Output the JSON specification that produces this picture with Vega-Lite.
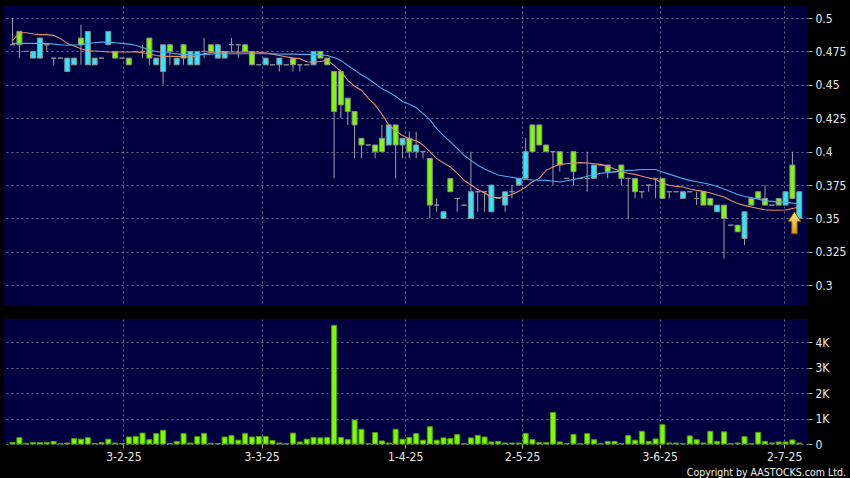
{
"$schema": "https://vega.github.io/schema/vega-lite/v6.json",
"background": "#000000",
"padding": {"left": 4, "top": 6, "right": 6, "bottom": 0},
"config": {
  "view": {"fill": "#000040", "stroke": null},
  "font": "DejaVu Sans Condensed, Liberation Sans, sans-serif",
  "axis": {"gridColor": "#6c6c96", "gridDash": [2, 3], "gridWidth": 1, "domain": false, "labelColor": "#e8e8e8", "tickColor": "#b0b0b0", "labelFont": "DejaVu Sans Condensed, Liberation Sans, sans-serif", "labelFontSize": 12, "tickSize": 4, "labelPadding": 3, "labelOverlap": false}
},
"datasets": {
"prices": [
{"i":0,"open":0.48,"high":0.5,"low":0.48,"close":0.48,"volume":60,"ma10":0.483,"ma20":0.481},
{"i":1,"open":0.49,"high":0.49,"low":0.47,"close":0.48,"volume":250,"ma10":0.489,"ma20":0.481},
{"i":2,"open":0.475,"high":0.475,"low":0.475,"close":0.475,"volume":30,"ma10":0.489,"ma20":0.481},
{"i":3,"open":0.47,"high":0.475,"low":0.47,"close":0.475,"volume":60,"ma10":0.488,"ma20":0.481},
{"i":4,"open":0.47,"high":0.485,"low":0.47,"close":0.485,"volume":60,"ma10":0.4876,"ma20":0.481},
{"i":5,"open":0.48,"high":0.48,"low":0.475,"close":0.48,"volume":60,"ma10":0.4876,"ma20":0.481},
{"i":6,"open":0.47,"high":0.47,"low":0.465,"close":0.47,"volume":100,"ma10":0.487,"ma20":0.4805},
{"i":7,"open":0.47,"high":0.47,"low":0.47,"close":0.47,"volume":10,"ma10":0.4846,"ma20":0.48},
{"i":8,"open":0.46,"high":0.47,"low":0.46,"close":0.47,"volume":40,"ma10":0.481,"ma20":0.4796},
{"i":9,"open":0.465,"high":0.47,"low":0.465,"close":0.47,"volume":210,"ma10":0.479,"ma20":0.4798},
{"i":10,"open":0.485,"high":0.495,"low":0.465,"close":0.48,"volume":190,"ma10":0.477,"ma20":0.48},
{"i":11,"open":0.465,"high":0.49,"low":0.465,"close":0.49,"volume":250,"ma10":0.4755,"ma20":0.481},
{"i":12,"open":0.465,"high":0.47,"low":0.465,"close":0.47,"volume":20,"ma10":0.4753,"ma20":0.4815},
{"i":13,"open":0.47,"high":0.47,"low":0.47,"close":0.47,"volume":60,"ma10":0.475,"ma20":0.482},
{"i":14,"open":0.48,"high":0.49,"low":0.48,"close":0.49,"volume":190,"ma10":0.4746,"ma20":0.482},
{"i":15,"open":0.475,"high":0.475,"low":0.47,"close":0.47,"volume":40,"ma10":0.4746,"ma20":0.4815},
{"i":16,"open":0.47,"high":0.47,"low":0.47,"close":0.47,"volume":20,"ma10":0.4746,"ma20":0.481},
{"i":17,"open":0.47,"high":0.47,"low":0.465,"close":0.465,"volume":275,"ma10":0.4746,"ma20":0.4805},
{"i":18,"open":0.475,"high":0.475,"low":0.475,"close":0.475,"volume":300,"ma10":0.4746,"ma20":0.4796},
{"i":19,"open":0.475,"high":0.48,"low":0.47,"close":0.475,"volume":430,"ma10":0.474,"ma20":0.478},
{"i":20,"open":0.485,"high":0.485,"low":0.465,"close":0.47,"volume":170,"ma10":0.4733,"ma20":0.4763},
{"i":21,"open":0.465,"high":0.47,"low":0.465,"close":0.47,"volume":410,"ma10":0.472,"ma20":0.475},
{"i":22,"open":0.46,"high":0.48,"low":0.45,"close":0.48,"volume":540,"ma10":0.4713,"ma20":0.4742},
{"i":23,"open":0.48,"high":0.48,"low":0.465,"close":0.475,"volume":20,"ma10":0.4713,"ma20":0.4738},
{"i":24,"open":0.465,"high":0.47,"low":0.465,"close":0.47,"volume":100,"ma10":0.4713,"ma20":0.4732},
{"i":25,"open":0.48,"high":0.48,"low":0.465,"close":0.47,"volume":410,"ma10":0.4708,"ma20":0.4727},
{"i":26,"open":0.465,"high":0.475,"low":0.465,"close":0.475,"volume":40,"ma10":0.4708,"ma20":0.4726},
{"i":27,"open":0.465,"high":0.475,"low":0.465,"close":0.475,"volume":290,"ma10":0.472,"ma20":0.4726},
{"i":28,"open":0.475,"high":0.485,"low":0.47,"close":0.475,"volume":420,"ma10":0.4733,"ma20":0.4728},
{"i":29,"open":0.48,"high":0.48,"low":0.475,"close":0.475,"volume":30,"ma10":0.4743,"ma20":0.473},
{"i":30,"open":0.47,"high":0.48,"low":0.47,"close":0.48,"volume":20,"ma10":0.4746,"ma20":0.4733},
{"i":31,"open":0.47,"high":0.475,"low":0.47,"close":0.475,"volume":275,"ma10":0.4746,"ma20":0.4733},
{"i":32,"open":0.48,"high":0.485,"low":0.475,"close":0.48,"volume":330,"ma10":0.4746,"ma20":0.4733},
{"i":33,"open":0.48,"high":0.48,"low":0.47,"close":0.48,"volume":150,"ma10":0.4746,"ma20":0.4733},
{"i":34,"open":0.48,"high":0.48,"low":0.475,"close":0.475,"volume":410,"ma10":0.4746,"ma20":0.4733},
{"i":35,"open":0.475,"high":0.475,"low":0.465,"close":0.465,"volume":275,"ma10":0.4746,"ma20":0.4733},
{"i":36,"open":0.465,"high":0.465,"low":0.465,"close":0.465,"volume":300,"ma10":0.4744,"ma20":0.4733},
{"i":37,"open":0.465,"high":0.47,"low":0.465,"close":0.47,"volume":300,"ma10":0.4738,"ma20":0.4733},
{"i":38,"open":0.465,"high":0.465,"low":0.465,"close":0.465,"volume":140,"ma10":0.473,"ma20":0.4733},
{"i":39,"open":0.465,"high":0.47,"low":0.46,"close":0.47,"volume":40,"ma10":0.472,"ma20":0.4731},
{"i":40,"open":0.465,"high":0.465,"low":0.465,"close":0.465,"volume":15,"ma10":0.471,"ma20":0.473},
{"i":41,"open":0.47,"high":0.47,"low":0.46,"close":0.465,"volume":430,"ma10":0.47,"ma20":0.473},
{"i":42,"open":0.465,"high":0.465,"low":0.46,"close":0.465,"volume":80,"ma10":0.4696,"ma20":0.4728},
{"i":43,"open":0.465,"high":0.465,"low":0.465,"close":0.465,"volume":190,"ma10":0.4673,"ma20":0.4728},
{"i":44,"open":0.465,"high":0.475,"low":0.465,"close":0.475,"volume":260,"ma10":0.467,"ma20":0.4726},
{"i":45,"open":0.475,"high":0.475,"low":0.47,"close":0.47,"volume":240,"ma10":0.4675,"ma20":0.4724},
{"i":46,"open":0.47,"high":0.47,"low":0.465,"close":0.465,"volume":260,"ma10":0.4683,"ma20":0.472},
{"i":47,"open":0.46,"high":0.46,"low":0.38,"close":0.43,"volume":4670,"ma10":0.4646,"ma20":0.4705},
{"i":48,"open":0.46,"high":0.46,"low":0.425,"close":0.435,"volume":260,"ma10":0.46,"ma20":0.4683},
{"i":49,"open":0.44,"high":0.44,"low":0.42,"close":0.43,"volume":170,"ma10":0.4534,"ma20":0.4645},
{"i":50,"open":0.43,"high":0.43,"low":0.395,"close":0.42,"volume":945,"ma10":0.449,"ma20":0.461},
{"i":51,"open":0.41,"high":0.41,"low":0.395,"close":0.405,"volume":580,"ma10":0.446,"ma20":0.4575},
{"i":52,"open":0.405,"high":0.405,"low":0.405,"close":0.405,"volume":10,"ma10":0.44,"ma20":0.4545},
{"i":53,"open":0.405,"high":0.405,"low":0.395,"close":0.4,"volume":450,"ma10":0.435,"ma20":0.4508},
{"i":54,"open":0.41,"high":0.42,"low":0.4,"close":0.4,"volume":120,"ma10":0.428,"ma20":0.447},
{"i":55,"open":0.405,"high":0.42,"low":0.405,"close":0.42,"volume":40,"ma10":0.42,"ma20":0.4445},
{"i":56,"open":0.42,"high":0.42,"low":0.38,"close":0.405,"volume":580,"ma10":0.4155,"ma20":0.4415},
{"i":57,"open":0.405,"high":0.41,"low":0.395,"close":0.41,"volume":190,"ma10":0.4122,"ma20":0.4375},
{"i":58,"open":0.41,"high":0.415,"low":0.395,"close":0.4,"volume":260,"ma10":0.4095,"ma20":0.4354},
{"i":59,"open":0.4,"high":0.415,"low":0.395,"close":0.405,"volume":410,"ma10":0.4082,"ma20":0.433},
{"i":60,"open":0.4,"high":0.4,"low":0.395,"close":0.4,"volume":150,"ma10":0.405,"ma20":0.4285},
{"i":61,"open":0.395,"high":0.395,"low":0.35,"close":0.36,"volume":680,"ma10":0.4,"ma20":0.424},
{"i":62,"open":0.36,"high":0.365,"low":0.355,"close":0.36,"volume":150,"ma10":0.3948,"ma20":0.4172},
{"i":63,"open":0.35,"high":0.355,"low":0.35,"close":0.355,"volume":240,"ma10":0.3915,"ma20":0.412},
{"i":64,"open":0.38,"high":0.38,"low":0.37,"close":0.37,"volume":210,"ma10":0.3885,"ma20":0.4073},
{"i":65,"open":0.365,"high":0.365,"low":0.355,"close":0.365,"volume":370,"ma10":0.384,"ma20":0.4025},
{"i":66,"open":0.36,"high":0.36,"low":0.36,"close":0.36,"volume":10,"ma10":0.3786,"ma20":0.3973},
{"i":67,"open":0.35,"high":0.4,"low":0.35,"close":0.37,"volume":240,"ma10":0.375,"ma20":0.3935},
{"i":68,"open":0.37,"high":0.37,"low":0.355,"close":0.37,"volume":340,"ma10":0.3716,"ma20":0.3898},
{"i":69,"open":0.37,"high":0.37,"low":0.355,"close":0.37,"volume":275,"ma10":0.369,"ma20":0.387},
{"i":70,"open":0.355,"high":0.375,"low":0.355,"close":0.375,"volume":80,"ma10":0.366,"ma20":0.3848},
{"i":71,"open":0.365,"high":0.365,"low":0.365,"close":0.365,"volume":100,"ma10":0.3655,"ma20":0.3825},
{"i":72,"open":0.36,"high":0.37,"low":0.355,"close":0.37,"volume":40,"ma10":0.3665,"ma20":0.3816},
{"i":73,"open":0.37,"high":0.375,"low":0.365,"close":0.37,"volume":40,"ma10":0.368,"ma20":0.3808},
{"i":74,"open":0.375,"high":0.38,"low":0.375,"close":0.38,"volume":40,"ma10":0.3703,"ma20":0.3798},
{"i":75,"open":0.38,"high":0.41,"low":0.38,"close":0.4,"volume":420,"ma10":0.3735,"ma20":0.3792},
{"i":76,"open":0.42,"high":0.42,"low":0.4,"close":0.4,"volume":170,"ma10":0.3775,"ma20":0.3788},
{"i":77,"open":0.42,"high":0.42,"low":0.405,"close":0.405,"volume":60,"ma10":0.38,"ma20":0.3786},
{"i":78,"open":0.405,"high":0.405,"low":0.4,"close":0.4,"volume":60,"ma10":0.386,"ma20":0.3785},
{"i":79,"open":0.4,"high":0.4,"low":0.375,"close":0.4,"volume":1240,"ma10":0.3885,"ma20":0.378},
{"i":80,"open":0.4,"high":0.4,"low":0.385,"close":0.39,"volume":80,"ma10":0.3905,"ma20":0.3773},
{"i":81,"open":0.38,"high":0.38,"low":0.38,"close":0.38,"volume":15,"ma10":0.391,"ma20":0.3782},
{"i":82,"open":0.4,"high":0.4,"low":0.375,"close":0.385,"volume":380,"ma10":0.3915,"ma20":0.3791},
{"i":83,"open":0.38,"high":0.38,"low":0.38,"close":0.38,"volume":10,"ma10":0.3918,"ma20":0.3803},
{"i":84,"open":0.38,"high":0.4,"low":0.37,"close":0.38,"volume":410,"ma10":0.3915,"ma20":0.3816},
{"i":85,"open":0.38,"high":0.39,"low":0.38,"close":0.39,"volume":170,"ma10":0.391,"ma20":0.3825},
{"i":86,"open":0.39,"high":0.39,"low":0.39,"close":0.39,"volume":15,"ma10":0.3905,"ma20":0.3838},
{"i":87,"open":0.39,"high":0.39,"low":0.38,"close":0.385,"volume":100,"ma10":0.389,"ma20":0.3843},
{"i":88,"open":0.385,"high":0.385,"low":0.385,"close":0.385,"volume":100,"ma10":0.387,"ma20":0.3849},
{"i":89,"open":0.39,"high":0.39,"low":0.375,"close":0.38,"volume":15,"ma10":0.385,"ma20":0.3855},
{"i":90,"open":0.38,"high":0.38,"low":0.35,"close":0.38,"volume":330,"ma10":0.3838,"ma20":0.386},
{"i":91,"open":0.38,"high":0.38,"low":0.365,"close":0.37,"volume":150,"ma10":0.383,"ma20":0.3862},
{"i":92,"open":0.37,"high":0.37,"low":0.365,"close":0.37,"volume":500,"ma10":0.3816,"ma20":0.3866},
{"i":93,"open":0.375,"high":0.375,"low":0.37,"close":0.375,"volume":100,"ma10":0.3803,"ma20":0.3866},
{"i":94,"open":0.38,"high":0.38,"low":0.365,"close":0.38,"volume":200,"ma10":0.3791,"ma20":0.3866},
{"i":95,"open":0.38,"high":0.38,"low":0.365,"close":0.365,"volume":760,"ma10":0.3765,"ma20":0.3848},
{"i":96,"open":0.37,"high":0.37,"low":0.365,"close":0.37,"volume":40,"ma10":0.3748,"ma20":0.3832},
{"i":97,"open":0.37,"high":0.37,"low":0.37,"close":0.37,"volume":40,"ma10":0.374,"ma20":0.3815},
{"i":98,"open":0.365,"high":0.37,"low":0.365,"close":0.37,"volume":10,"ma10":0.3736,"ma20":0.3798},
{"i":99,"open":0.37,"high":0.37,"low":0.37,"close":0.37,"volume":320,"ma10":0.372,"ma20":0.3785},
{"i":100,"open":0.365,"high":0.37,"low":0.36,"close":0.365,"volume":170,"ma10":0.371,"ma20":0.3775},
{"i":101,"open":0.37,"high":0.37,"low":0.36,"close":0.36,"volume":40,"ma10":0.3703,"ma20":0.3766},
{"i":102,"open":0.365,"high":0.365,"low":0.36,"close":0.36,"volume":500,"ma10":0.369,"ma20":0.3754},
{"i":103,"open":0.355,"high":0.36,"low":0.355,"close":0.36,"volume":100,"ma10":0.3676,"ma20":0.374},
{"i":104,"open":0.36,"high":0.36,"low":0.32,"close":0.35,"volume":480,"ma10":0.366,"ma20":0.372},
{"i":105,"open":0.345,"high":0.345,"low":0.345,"close":0.345,"volume":10,"ma10":0.3635,"ma20":0.37},
{"i":106,"open":0.345,"high":0.345,"low":0.34,"close":0.34,"volume":40,"ma10":0.3612,"ma20":0.368},
{"i":107,"open":0.335,"high":0.355,"low":0.33,"close":0.355,"volume":290,"ma10":0.3598,"ma20":0.3665},
{"i":108,"open":0.365,"high":0.365,"low":0.36,"close":0.36,"volume":10,"ma10":0.3586,"ma20":0.3656},
{"i":109,"open":0.37,"high":0.37,"low":0.365,"close":0.365,"volume":460,"ma10":0.3575,"ma20":0.3645},
{"i":110,"open":0.365,"high":0.375,"low":0.36,"close":0.36,"volume":100,"ma10":0.3565,"ma20":0.3632},
{"i":111,"open":0.36,"high":0.36,"low":0.36,"close":0.36,"volume":40,"ma10":0.3561,"ma20":0.3628},
{"i":112,"open":0.365,"high":0.365,"low":0.36,"close":0.36,"volume":80,"ma10":0.3561,"ma20":0.3624},
{"i":113,"open":0.36,"high":0.37,"low":0.36,"close":0.37,"volume":80,"ma10":0.3563,"ma20":0.3622},
{"i":114,"open":0.39,"high":0.4,"low":0.365,"close":0.365,"volume":160,"ma10":0.3574,"ma20":0.3615},
{"i":115,"open":0.35,"high":0.37,"low":0.35,"close":0.37,"volume":40,"ma10":0.3585,"ma20":0.361}
],
"marker": [{"i": 114.3, "price": 0.3468}]
},
"spacing": 13,
"title": {"text": "Copyright by AASTOCKS.com Ltd.", "orient": "bottom", "anchor": "end", "color": "#f0f0f0", "fontSize": 10.5, "fontWeight": "normal", "font": "DejaVu Sans Condensed, Liberation Sans, sans-serif", "offset": 6, "dx": 0},
"vconcat": [
{
  "width": 804, "height": 300,
  "data": {"name": "prices"},
  "encoding": {
    "x": {"field": "i", "type": "quantitative", "title": null,
      "scale": {"domain": [-0.52, 115.55], "nice": false, "zero": false},
      "axis": {"values": [16.2, 36.4, 57.4, 74.5, 94.6, 112.8], "labels": false, "ticks": false, "grid": true}}
  },
  "layer": [
    {"mark": {"type": "rule", "color": "#a0a0a0", "strokeWidth": 1},
     "encoding": {
       "y": {"field": "low", "type": "quantitative", "title": null,
         "scale": {"domain": [0.2845, 0.509], "nice": false, "zero": false},
         "axis": {"orient": "right", "values": [0.3, 0.325, 0.35, 0.375, 0.4, 0.425, 0.45, 0.475, 0.5], "labelExpr": "'' + datum.value", "grid": true, "labelOverlap": false}},
       "y2": {"field": "high"}}},
    {"mark": {"type": "bar", "size": 5, "stroke": "#8c8c8c", "strokeWidth": 1},
     "encoding": {
       "y": {"field": "open", "type": "quantitative", "title": null,
         "axis": {"orient": "right", "values": [0.3, 0.325, 0.35, 0.375, 0.4, 0.425, 0.45, 0.475, 0.5], "labelExpr": "'' + datum.value", "grid": true, "labelOverlap": false}},
       "y2": {"field": "close"},
       "color": {"condition": {"test": "datum.close > datum.open", "value": "#2EE8FA"}, "value": "#7CFC00"}}},
    {"mark": {"type": "line", "color": "#E0906A", "strokeWidth": 1.1},
     "encoding": {"y": {"field": "ma10", "type": "quantitative", "title": null,
         "axis": {"orient": "right", "values": [0.3, 0.325, 0.35, 0.375, 0.4, 0.425, 0.45, 0.475, 0.5], "labelExpr": "'' + datum.value", "grid": true, "labelOverlap": false}}}},
    {"mark": {"type": "line", "color": "#4AAEEA", "strokeWidth": 1.1},
     "encoding": {"y": {"field": "ma20", "type": "quantitative", "title": null,
         "axis": {"orient": "right", "values": [0.3, 0.325, 0.35, 0.375, 0.4, 0.425, 0.45, 0.475, 0.5], "labelExpr": "'' + datum.value", "grid": true, "labelOverlap": false}}}},
    {"data": {"name": "marker"},
     "mark": {"type": "point", "shape": "M0,-1 L0.6,-0.1 L0.25,-0.1 L0.25,1 L-0.25,1 L-0.25,-0.1 L-0.6,-0.1 Z", "size": 484, "filled": true, "opacity": 1,
       "fill": {"gradient": "linear", "x1": 0, "y1": 0, "x2": 0, "y2": 1, "stops": [{"offset": 0, "color": "#FFE680"}, {"offset": 1, "color": "#E89A00"}]},
       "stroke": "#7a5000", "strokeWidth": 1},
     "encoding": {"y": {"field": "price", "type": "quantitative", "title": null,
         "axis": {"orient": "right", "values": [0.3, 0.325, 0.35, 0.375, 0.4, 0.425, 0.45, 0.475, 0.5], "labelExpr": "'' + datum.value", "grid": true, "labelOverlap": false}}}}
  ]
},
{
  "width": 804, "height": 125,
  "data": {"name": "prices"},
  "mark": {"type": "bar", "size": 5, "color": "#7CFC00", "stroke": "#4f9e00", "strokeWidth": 1},
  "encoding": {
    "x": {"field": "i", "type": "quantitative", "title": null,
      "scale": {"domain": [-0.52, 115.55], "nice": false, "zero": false},
      "axis": {"values": [16.2, 36.4, 57.4, 74.5, 94.6, 112.8], "grid": true, "labelFlush": false,
        "labelExpr": "datum.value < 20 ? '3-2-25' : datum.value < 40 ? '3-3-25' : datum.value < 60 ? '1-4-25' : datum.value < 80 ? '2-5-25' : datum.value < 100 ? '3-6-25' : '2-7-25'"}},
    "y": {"field": "volume", "type": "quantitative", "title": null,
      "scale": {"domain": [0, 4920], "nice": false},
      "axis": {"orient": "right", "values": [0, 1000, 2000, 3000, 4000], "grid": true,
        "labelExpr": "datum.value == 0 ? '0' : (datum.value / 1000) + 'K'"}}
  }
}
]
}
